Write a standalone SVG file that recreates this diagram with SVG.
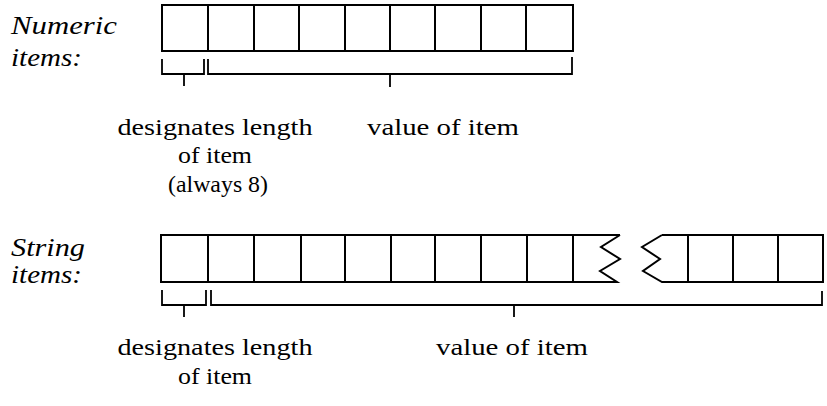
<svg xmlns="http://www.w3.org/2000/svg" width="827" height="406" viewBox="0 0 827 406">
<defs>
<style>
.box{fill:none;stroke:#000;stroke-width:2;stroke-linejoin:miter}
.br{fill:none;stroke:#000;stroke-width:1.8}
text{font-family:"Liberation Serif","DejaVu Serif",serif;fill:#000}
.lbl{font-style:italic;font-size:25px}
.t{font-size:24px;text-anchor:middle}
</style>
</defs>
<rect width="827" height="406" fill="#fff"/>
<g id="numeric-label">
<text class="lbl" font-family="Liberation Serif" x="11" y="34" textLength="106" lengthAdjust="spacingAndGlyphs">Numeric</text>
<text class="lbl" font-family="Liberation Serif" x="11" y="66" textLength="71" lengthAdjust="spacingAndGlyphs">items:</text>
</g>
<g id="numeric-length-label">
<text class="t" font-family="Liberation Serif" x="215" y="135" textLength="195" lengthAdjust="spacingAndGlyphs">designates length</text>
<text class="t" font-family="Liberation Serif" x="215" y="163" textLength="74" lengthAdjust="spacingAndGlyphs">of item</text>
<text class="t" font-family="Liberation Serif" x="218" y="192" textLength="100" lengthAdjust="spacingAndGlyphs">(always 8)</text>
</g>
<g id="numeric-value-label">
<text class="t" font-family="Liberation Serif" x="443" y="135" textLength="152" lengthAdjust="spacingAndGlyphs">value of item</text>
</g>
<g id="string-label">
<text class="lbl" font-family="Liberation Serif" x="11" y="256" textLength="74" lengthAdjust="spacingAndGlyphs">String</text>
<text class="lbl" font-family="Liberation Serif" x="11" y="283" textLength="71" lengthAdjust="spacingAndGlyphs">items:</text>
</g>
<g id="string-length-label">
<text class="t" font-family="Liberation Serif" x="215" y="355" textLength="195" lengthAdjust="spacingAndGlyphs">designates length</text>
<text class="t" font-family="Liberation Serif" x="215" y="384" textLength="74" lengthAdjust="spacingAndGlyphs">of item</text>
</g>
<g id="string-value-label">
<text class="t" font-family="Liberation Serif" x="512" y="355" textLength="152" lengthAdjust="spacingAndGlyphs">value of item</text>
</g>
<g id="numeric-item">
<rect class="box" x="162" y="5" width="411" height="46"/>
<path class="box" d="M208,5V51M254,5V51M299,5V51M345,5V51M390,5V51M435,5V51M481,5V51M526,5V51"/>
</g>
<g id="string-item">
<path class="box" d="M620,235H161V282H617L600,271L620,259L601,247L620,235"/>
<path class="box" d="M208,235V282M254,235V282M301,235V282M345,235V282M391,235V282M435,235V282M481,235V282M527,235V282M573,235V282"/>
<path class="box" d="M662,235H823V282H662L643,271L660,259L642,247L662,235"/>
<path class="box" d="M688,235V282M733,235V282M778,235V282"/>
</g>
<g id="connectors">
<path class="br" d="M162,59V74H204V59M184,74V86"/>
<path class="br" d="M208,59V74H572V57M390,74V87"/>
<path class="br" d="M162,290V305H206V290M184,305V317"/>
<path class="br" d="M211,290V305H822V291M514,305V317"/>
</g>
</svg>
